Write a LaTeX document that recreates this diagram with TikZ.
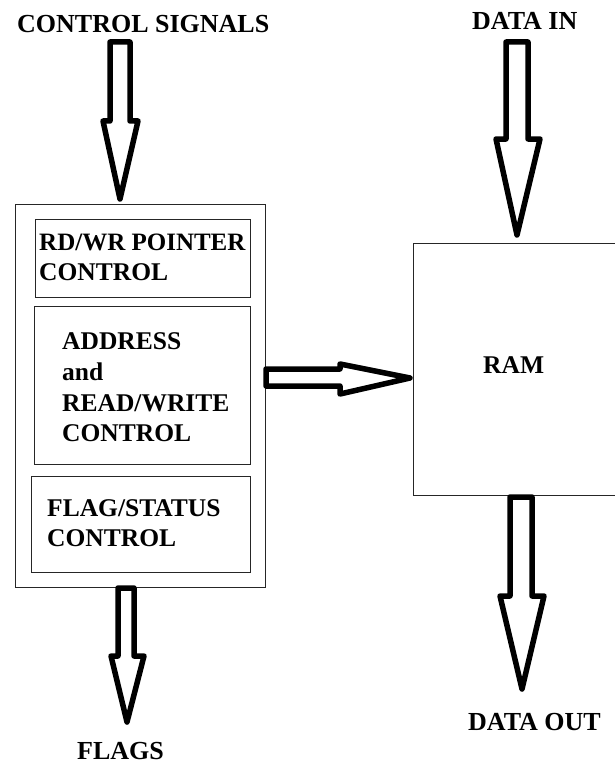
\documentclass[tikz,border=0pt]{standalone}
\usepackage{fontspec}
\setmainfont{Liberation Serif}
\begin{document}
\begin{tikzpicture}[x=1pt,y=-1pt,
  lbl/.style={font=\fontsize{25.5}{30}\selectfont\bfseries, inner sep=0pt, anchor=base west},
  biglbl/.style={lbl, font=\fontsize{26}{30}\selectfont\bfseries},
  boxst/.style={draw=black!85, line width=1.2pt, inner sep=0pt, anchor=north west},
  blk/.style={draw=black, line width=5.5pt, line join=round, fill=white}]
\useasboundingbox (0,0) rectangle (614,765);
% boxes
\node[boxst, minimum width=250pt, minimum height=383pt] (outer) at (15,204) {};
\node[boxst, minimum width=215pt, minimum height=78pt] (ptr) at (35,219) {};
\node[boxst, minimum width=216pt, minimum height=158pt] (addr) at (34,306) {};
\node[boxst, minimum width=219pt, minimum height=96pt] (flag) at (31,476) {};
\node[boxst, minimum width=210pt, minimum height=252pt] (ram) at (413,243) {};
% texts
\node[lbl, font=\fontsize{25}{30}\selectfont\bfseries] (t1a) at (39,250) {RD/WR POINTER};
\node[lbl] (t1b) at (39,280) {CONTROL};
\node[lbl] (t2a) at (62,349) {ADDRESS};
\node[lbl] (t2b) at (62,380) {and};
\node[lbl] (t2c) at (62,411) {READ/WRITE};
\node[lbl] (t2d) at (62,441) {CONTROL};
\node[lbl] (t3a) at (47,516) {FLAG/STATUS};
\node[lbl] (t3b) at (47,546) {CONTROL};
\node[lbl] (tram) at (483,373) {RAM};
\node[biglbl] (cs) at (17,33) {CONTROL SIGNALS};
\node[biglbl] (din) at (472,30) {DATA IN};
\node[biglbl] (dout) at (468,730) {DATA OUT};
\node[biglbl] (flags) at (77,759) {FLAGS};
% block arrows
\draw[blk] (110,42) -- (130,42) -- (130,121) -- (138,121) -- (120,199) -- (103,121) -- (110,121) -- cycle;
\draw[blk] (506,42) -- (528,42) -- (528,139) -- (540,139) -- (517,235) -- (496,139) -- (506,139) -- cycle;
\draw[blk] (510,497) -- (532,497) -- (532,596) -- (544,596) -- (522,689) -- (500,596) -- (510,596) -- cycle;
\draw[blk] (118,588) -- (134,588) -- (134,656) -- (144,656) -- (127,722) -- (111,656) -- (118,656) -- cycle;
\draw[blk] (266,369) -- (340,369) -- (340,364) -- (410,378) -- (340,394) -- (340,386) -- (266,386) -- cycle;
\end{tikzpicture}
\end{document}
